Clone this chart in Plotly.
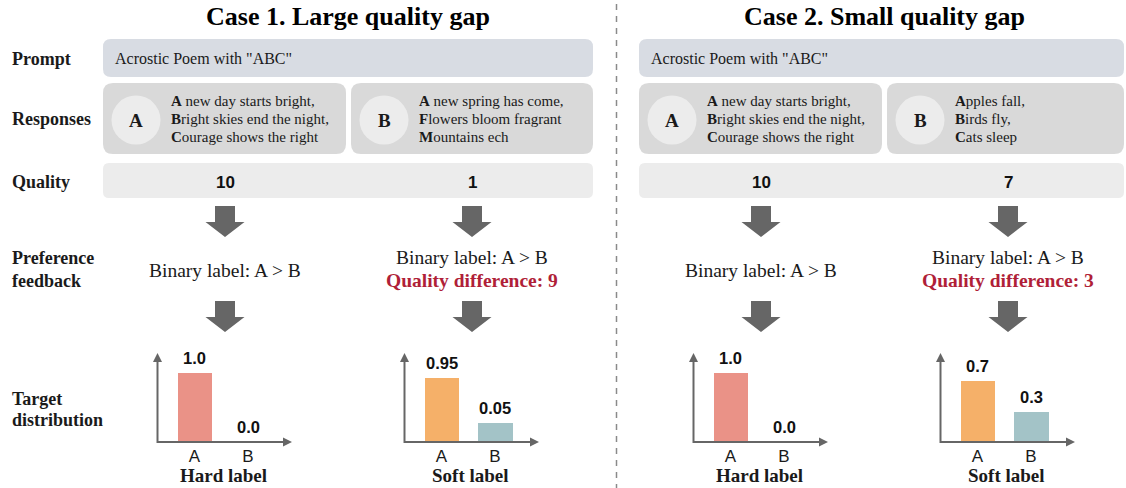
import plotly.graph_objects as go

# ---------------- data ----------------
case_titles = ["Case 1. Large quality gap", "Case 2. Small quality gap"]
row_labels = [["Prompt"], ["Responses"], ["Quality"], ["Preference", "feedback"], ["Target", "distribution"]]
prompt_text = 'Acrostic Poem with "ABC"'
response_names = ["A", "B"]
responses_case1_A = ["A new day starts bright,", "Bright skies end the night,", "Courage shows the right"]
responses_case1_B = ["A new spring has come,", "Flowers bloom fragrant", "Mountains ech"]
responses_case2_A = ["A new day starts bright,", "Bright skies end the night,", "Courage shows the right"]
responses_case2_B = ["Apples fall,", "Birds fly,", "Cats sleep"]
quality_case1 = [10, 1]
quality_case2 = [10, 7]
binary_label = "Binary label: A > B"
categories = ["A", "B"]
hard_probs = [1.0, 0.0]
soft_probs_case1 = [0.95, 0.05]
soft_probs_case2 = [0.7, 0.3]
# schematic bar heights as drawn in the figure (not to scale with the labels)
hard_drawn = [1.0, 0.0]
soft_drawn_case1 = [0.93, 0.28]
soft_drawn_case2 = [0.88, 0.43]
chart_titles = ["Hard label", "Soft label"]

# ---------------- style ----------------
W, H = 1126, 488
SERIF = "Liberation Serif"
SANS = "Liberation Sans"
TXT = "#1a1a1a"
C_PROMPT = "#d8dce3"
C_RESP = "#d9d9d9"
C_CIRCLE = "#ececec"
C_QUAL = "#ececec"
C_ARROW = "#666666"
C_RED = "#b01f38"
C_HARD = "#ea9287"
C_SOFT_A = "#f5b069"
C_SOFT_B = "#a3c3c7"

fig = go.Figure()
shapes = []
annotations = []


def rrect(x0, y0, x1, y1, r, color):
    p = (f"M {x0+r},{y0} L {x1-r},{y0} Q {x1},{y0} {x1},{y0+r} L {x1},{y1-r} "
         f"Q {x1},{y1} {x1-r},{y1} L {x0+r},{y1} Q {x0},{y1} {x0},{y1-r} "
         f"L {x0},{y0+r} Q {x0},{y0} {x0+r},{y0} Z")
    shapes.append(dict(type="path", path=p, xref="x", yref="y", fillcolor=color,
                       line=dict(width=0), layer="below"))


def text(x, y, s, size, family=SERIF, color=TXT, xanchor="center", yanchor="middle"):
    annotations.append(dict(x=x, y=y, xref="x", yref="y", text=s, showarrow=False,
                            font=dict(family=family, size=size, color=color),
                            xanchor=xanchor, yanchor=yanchor))


def block_arrow(c, top):
    sw, hw = 10, 19.5
    hs, tip = top + 16, top + 31
    p = (f"M {c-sw},{top} L {c+sw},{top} L {c+sw},{hs} L {c+hw},{hs} L {c},{tip} "
         f"L {c-hw},{hs} L {c-sw},{hs} Z")
    shapes.append(dict(type="path", path=p, xref="x", yref="y", fillcolor=C_ARROW,
                       line=dict(width=0), layer="below"))


# row labels
row_y = [[59], [119], [182], [258, 281], [399, 420]]
for lines, ys in zip(row_labels, row_y):
    for ln, yy in zip(lines, ys):
        text(10, yy, f"<b>{ln}</b>", 18, xanchor="left")

# divider
shapes.append(dict(type="line", x0=616.5, x1=616.5, y0=4, y1=488, xref="x", yref="y",
                   line=dict(color="#8a8a8a", width=1.5, dash="6px,6px")))

cases = [
    dict(dx=0, A=responses_case1_A, B=responses_case1_B, q=quality_case1,
         soft=soft_probs_case1, soft_h=soft_drawn_case1),
    dict(dx=536, A=responses_case2_A, B=responses_case2_B, q=quality_case2,
         soft=soft_probs_case2, soft_h=soft_drawn_case2),
]

axis_idx = 2
for ci, case in enumerate(cases):
    dx = case["dx"]
    right = min(593 + dx, 1124)
    text(348 + dx, 16, f"<b>{case_titles[ci]}</b>", 26, color="#000")
    # prompt
    rrect(103 + dx, 39, right, 77, 8, C_PROMPT)
    text(113 + dx, 58, prompt_text, 16, xanchor="left")
    # responses
    resp_boxes = [(103 + dx, 346 + dx), (351 + dx, right)]
    for k, (x0, x1) in enumerate(resp_boxes):
        rrect(x0, 83, x1, 154, 10, C_RESP)
        cx = x0 + 33
        shapes.append(dict(type="circle", x0=cx - 24.5, x1=cx + 24.5, y0=95.5, y1=144.5,
                           xref="x", yref="y", fillcolor=C_CIRCLE, line=dict(width=0),
                           layer="below"))
        text(cx, 120, f"<b>{response_names[k]}</b>", 19)
        lines = case["A"] if k == 0 else case["B"]
        for ln, yy in zip(lines, [101, 119, 137]):
            text(x0 + 66, yy, f"<b>{ln[0]}</b>{ln[1:]}", 15, xanchor="left")
    # quality
    rrect(103 + dx, 163, right, 198, 6, C_QUAL)
    cols = [225 + dx, 472 + dx]
    for k, c in enumerate(cols):
        text(c, 182, f"<b>{case['q'][k]}</b>", 17, family=SANS, color="#111")
        block_arrow(c, 206)
        block_arrow(c, 301)
    # preference feedback
    text(cols[0], 270, binary_label, 19.5)
    text(cols[1], 257, binary_label, 19.5)
    diff = case["q"][0] - case["q"][1]
    text(cols[1], 280, f"<b>Quality difference: {diff}</b>", 19.5, color=C_RED)

    # target distributions
    charts = [(cols[0], hard_probs, hard_drawn, [C_HARD, C_HARD], chart_titles[0]),
              (cols[1], case["soft"], case["soft_h"], [C_SOFT_A, C_SOFT_B], chart_titles[1])]
    for c, probs, heights, colors, ttl in charts:
        xl, xr = c - 67.5, c + 67
        ybase, ytop = 442, 353
        unit = 53.5
        posA = c - 30.5
        rng = [(xl - posA) / unit, (xr - posA) / unit]
        ymax = (ybase - ytop) / 69.0
        xa, ya = f"x{axis_idx}", f"y{axis_idx}"
        fig.add_trace(go.Bar(x=categories, y=heights, marker=dict(color=colors, line=dict(width=0)),
                             width=0.654, xaxis=xa, yaxis=ya, hoverinfo="skip", showlegend=False))
        fig.layout[f"xaxis{axis_idx}"] = dict(
            domain=[xl / W, xr / W], range=rng, anchor=ya, type="category",
            showgrid=False, zeroline=False, showline=False, ticks="", ticklabelstandoff=2,
            tickfont=dict(family=SANS, size=17, color=TXT), fixedrange=True)
        fig.layout[f"yaxis{axis_idx}"] = dict(
            domain=[1 - ybase / H, 1 - ytop / H], range=[0, ymax], anchor=xa,
            visible=False, fixedrange=True)
        for cat, p, h in zip(categories, probs, heights):
            annotations.append(dict(x=cat, y=h, xref=xa, yref=ya, text=f"<b>{p}</b>",
                                    showarrow=False, yanchor="middle", yshift=15,
                                    font=dict(family=SANS, size=16.5, color="#111")))
        # axis lines with arrowheads
        shapes.append(dict(type="line", x0=xl, x1=xr - 6, y0=ybase, y1=ybase, xref="x", yref="y",
                           line=dict(color=C_ARROW, width=2), layer="above"))
        shapes.append(dict(type="line", x0=xl, x1=xl, y0=ybase + 1, y1=ytop + 6, xref="x", yref="y",
                           line=dict(color=C_ARROW, width=2), layer="above"))
        shapes.append(dict(type="path", path=f"M {xr-9},{ybase-4.5} L {xr},{ybase} L {xr-9},{ybase+4.5} Z",
                           xref="x", yref="y", fillcolor=C_ARROW, line=dict(width=0), layer="above"))
        shapes.append(dict(type="path", path=f"M {xl-4.5},{ytop+9} L {xl},{ytop} L {xl+4.5},{ytop+9} Z",
                           xref="x", yref="y", fillcolor=C_ARROW, line=dict(width=0), layer="above"))
        text(c - 2, 475, f"<b>{ttl}</b>", 19)
        axis_idx += 1

fig.update_layout(
    width=W, height=H, margin=dict(l=0, r=0, t=0, b=0),
    paper_bgcolor="white", plot_bgcolor="rgba(0,0,0,0)",
    xaxis=dict(domain=[0, 1], range=[0, W], visible=False, fixedrange=True),
    yaxis=dict(domain=[0, 1], range=[H, 0], visible=False, fixedrange=True),
    shapes=shapes, annotations=annotations, showlegend=False, bargap=0,
)
fig.write_html("out.html", config={"displayModeBar": False},
               post_script="document.body.style.margin='0';document.body.style.overflow='hidden';")
